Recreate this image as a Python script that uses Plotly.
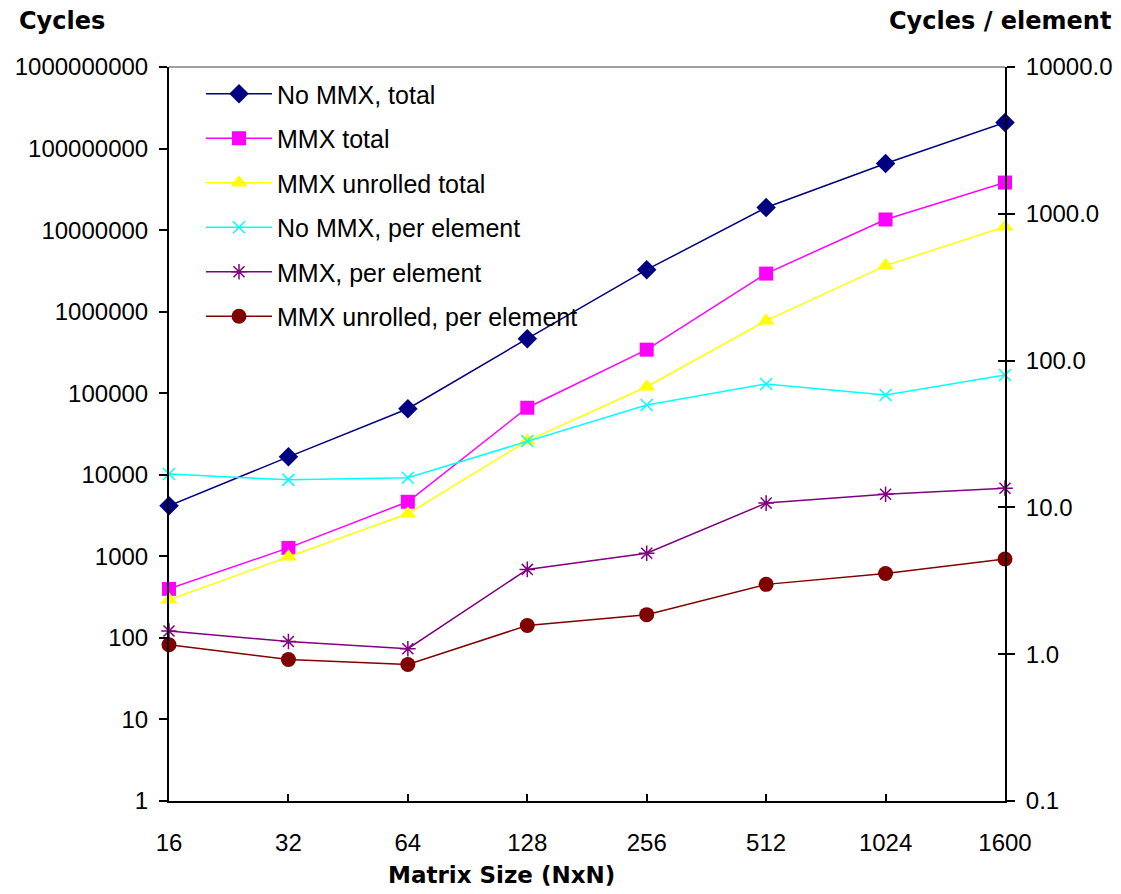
import plotly.graph_objects as go

sizes = ["16", "32", "64", "128", "256", "512", "1024", "1600"]

no_mmx_total = [4170, 16600, 64500, 467000, 3270000, 18900000, 65500000, 209000000]
mmx_total = [399, 1271, 4670, 66400, 342000, 2930000, 13500000, 38300000]
mmx_unrolled_total = [293, 986, 3320, 26100, 120000, 776000, 3670000, 11000000]

no_mmx_per_elem = [16.9, 15.4, 15.9, 28.3, 49.9, 69.3, 58.3, 79.8]
mmx_per_elem = [1.44, 1.22, 1.09, 3.78, 4.87, 10.7, 12.3, 13.5]
mmx_unrolled_per_elem = [1.16, 0.92, 0.85, 1.57, 1.86, 2.99, 3.55, 4.45]

left_tickvals = [1, 10, 100, 1000, 10000, 100000, 1000000, 10000000, 100000000, 1000000000]
left_ticktext = ["1", "10", "100", "1000", "10000", "100000", "1000000", "10000000", "100000000", "1000000000"]
right_tickvals = [0.1, 1, 10, 100, 1000, 10000]
right_ticktext = ["0.1", "1.0", "10.0", "100.0", "1000.0", "10000.0"]

# page body has an 8px margin; figure sized to fit the 1121x894 window
OFF = 8
W, H = 1121 - OFF, 894 - OFF
L, R, T, B = 169, 1005, 67, 801   # plot area in window pixels

def px_x(p):
    return (p - L) / (R - L)

def px_y(p):
    return (B - p) / (B - T)

fig = go.Figure()

series = [
    ("No MMX, total", no_mmx_total, "y", "#000080", dict(symbol="diamond", size=15, color="#000080")),
    ("MMX total", mmx_total, "y", "#FF00FF", dict(symbol="square", size=14, color="#FF00FF")),
    ("MMX unrolled total", mmx_unrolled_total, "y", "#FFFF00", dict(symbol="triangle-up", size=15, color="#FFFF00")),
    ("No MMX, per element", no_mmx_per_elem, "y2", "#00FFFF",
     dict(symbol="x-thin", size=12, color="#00FFFF", line=dict(color="#00FFFF", width=1.5))),
    ("MMX, per element", mmx_per_elem, "y2", "#800080",
     dict(symbol="asterisk", size=13, color="#800080", line=dict(color="#800080", width=1.5))),
    ("MMX unrolled, per element", mmx_unrolled_per_elem, "y2", "#800000",
     dict(symbol="circle", size=15, color="#800000")),
]

for i, (name, vals, yax, col, mk) in enumerate(series):
    fig.add_trace(go.Scatter(
        x=sizes, y=vals, name=name, yaxis=yax, mode="lines+markers",
        line=dict(color=col, width=1.5), marker=mk, legendgroup=f"g{i}",
        cliponaxis=False,
    ))

font_reg = "Liberation Sans, Arial, sans-serif"
font_bold = "DejaVu Sans, sans-serif"

fig.update_layout(
    width=W, height=H,
    margin=dict(l=L - OFF, r=W - (R - OFF), t=T - OFF, b=H - (B - OFF), pad=0),
    plot_bgcolor="white", paper_bgcolor="white",
    font=dict(family=font_reg, size=24, color="black"),
    showlegend=True,
    legend=dict(
        x=px_x(201), y=px_y(71), xanchor="left", yanchor="top",
        font=dict(family=font_reg, size=25, color="black"),
        bgcolor="rgba(0,0,0,0)", borderwidth=0,
        traceorder="grouped", tracegroupgap=9, itemwidth=66,
    ),
    xaxis=dict(
        type="category", range=[0, 7], showgrid=False, zeroline=False,
        showline=True, linecolor="black", linewidth=2, automargin=False,
        ticks="inside", ticklen=7, tickwidth=1.5, tickcolor="black",
        tickfont=dict(size=24), ticklabelstandoff=19,
    ),
    yaxis=dict(
        type="log", range=[0, 9], showgrid=False, zeroline=False,
        showline=True, linecolor="black", linewidth=2, automargin=False,
        ticks="outside", ticklen=8, tickwidth=1.5, tickcolor="black",
        tickvals=left_tickvals, ticktext=left_ticktext,
        tickfont=dict(size=24), ticklabelstandoff=6,
    ),
    yaxis2=dict(
        type="log", range=[-1, 4], overlaying="y", side="right",
        showgrid=False, zeroline=False, automargin=False,
        showline=True, linecolor="black", linewidth=2,
        ticks="outside", ticklen=8, tickwidth=1.5, tickcolor="black",
        tickvals=right_tickvals, ticktext=right_ticktext,
        tickfont=dict(size=24), ticklabelstandoff=6,
    ),
    yaxis3=dict(
        type="log", range=[-1, 4], overlaying="y", side="right",
        showgrid=False, zeroline=False, showline=False, automargin=False,
        ticks="inside", ticklen=7, tickwidth=1.5, tickcolor="black",
        tickvals=right_tickvals, showticklabels=False,
    ),
    shapes=[
        dict(type="line", xref="paper", yref="paper", x0=0, x1=1, y0=1, y1=1,
             line=dict(color="#a0a0a0", width=2)),
    ],
    annotations=[
        dict(text="<b>Cycles</b>", xref="paper", yref="paper", x=px_x(17), y=px_y(21),
             xanchor="left", yanchor="middle", showarrow=False,
             font=dict(family=font_bold, size=24, color="black")),
        dict(text="<b>Cycles / element</b>", xref="paper", yref="paper", x=px_x(1113), y=px_y(21),
             xanchor="right", yanchor="middle", showarrow=False,
             font=dict(family=font_bold, size=24, color="black")),
        dict(text="<b>Matrix Size (NxN)</b>", xref="paper", yref="paper", x=px_x(501), y=px_y(875),
             xanchor="center", yanchor="middle", showarrow=False,
             font=dict(family=font_bold, size=23, color="black")),
    ],
)

# invisible point so yaxis3 renders its inside ticks (crossing ticks on the right axis)
fig.add_trace(go.Scatter(x=[sizes[0]], y=[1], yaxis="y3", mode="markers",
                         marker=dict(opacity=0), showlegend=False, hoverinfo="skip"))

fig.write_html("out.html")
